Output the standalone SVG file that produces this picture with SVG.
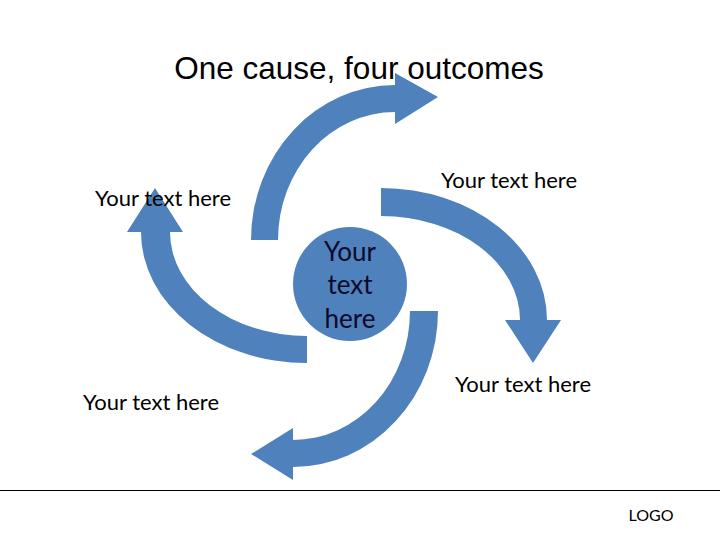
<svg xmlns="http://www.w3.org/2000/svg" width="720" height="540" viewBox="0 0 720 540">
<style>
.arrow{fill:#4F81BD;stroke:none}
.lbl{font-family:Lato,"Open Sans","Liberation Sans",sans-serif;font-size:22px;fill:#000;text-anchor:middle}
.ctr{font-family:Lato,"Open Sans","Liberation Sans",sans-serif;font-size:26px;fill:#0a0a28;text-anchor:middle}
.title{font-family:"Liberation Sans",Arial,sans-serif;font-size:31.5px;fill:#000;text-anchor:middle}
</style>
<rect width="720" height="540" fill="#fff"/>
<g id="connectors">
<path class="arrow" d="M251,240 A144,155 0 0 1 395,85 L395,73 L438,97 L395,124 L395,112 A117,128 0 0 0 278,240 Z"/>
<path class="arrow" d="M381,188 A166,132 0 0 1 547,320 L561,320 L533,363 L505,320 L520,320 A139,104 0 0 0 381,216 Z"/>
<path class="arrow" d="M438,311 A145,156 0 0 1 293,467 L293,480 L251,454 L293,428 L293,440 A117,129 0 0 0 410,311 Z"/>
<path class="arrow" d="M307,363 A166,131 0 0 1 141,232 L127,232 L155,188 L183,232 L170,232 A137,104 0 0 0 307,336 Z"/>
</g>
<g id="title"><text class="title" x="359" y="79">One cause, four outcomes</text></g>
<g id="center">
<circle cx="350" cy="284" r="57" fill="#4F81BD"/>
<text class="ctr" x="350" y="261">Your</text>
<text class="ctr" x="350" y="294">text</text>
<text class="ctr" x="350" y="328">here</text>
</g>
<g id="outcome-top-left"><text class="lbl" x="163" y="206">Your text here</text></g>
<g id="outcome-top-right"><text class="lbl" x="509" y="188">Your text here</text></g>
<g id="outcome-bottom-left"><text class="lbl" x="151" y="410">Your text here</text></g>
<g id="outcome-bottom-right"><text class="lbl" x="523" y="392">Your text here</text></g>
<g id="footer">
<line x1="0" y1="490.5" x2="720" y2="490.5" stroke="#000" stroke-width="1"/>
<text x="651" y="521" style="font-family:Lato,'Open Sans','Liberation Sans',sans-serif;font-size:16px;fill:#000;text-anchor:middle">LOGO</text>
</g>
</svg>
